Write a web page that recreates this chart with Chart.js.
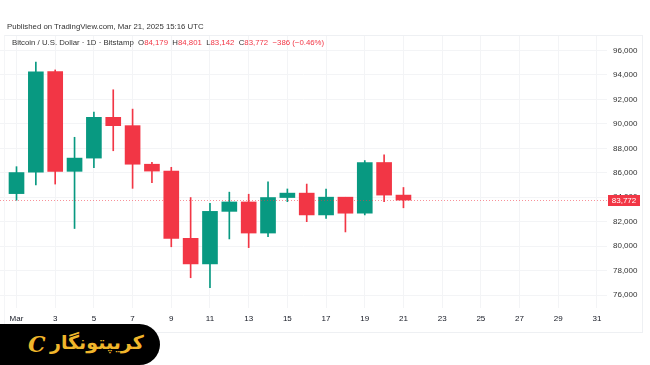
<!DOCTYPE html>
<html>
<head>
<meta charset="utf-8">
<script src="https://cdn.jsdelivr.net/npm/chart.js@4.4.1/dist/chart.umd.min.js"></script>
<style>
  body { margin: 0; background: #fff; }
  #wrap { position: relative; width: 650px; height: 365px; overflow: hidden; font-family: 'Liberation Sans', Arial, sans-serif; }
  #chart { position: absolute; left: 0; top: 0; }
  #frame { position: absolute; left: 4px; top: 35px; width: 639px; height: 298px; border: 1px solid #eef0f3; border-left-color: #f4f5f7; box-sizing: border-box; pointer-events: none; }
  #pub { position: absolute; left: 7px; top: 22px; font-size: 7.8px; color: #333; }
  #info { position: absolute; left: 12px; top: 38px; font-size: 7.8px; color: #333; }
  #info .r { color: #F23645; }
  #logo { position: absolute; left: 0; top: 324px; width: 160px; height: 41px; background: #000; border-radius: 0 21px 21px 0; }
  #logo .ic { position: absolute; left: 28px; top: 7px; font: italic bold 22px 'DejaVu Serif', serif; color: #F0B62B; }
  #logo .tx { position: absolute; left: 50px; top: 7px; font: bold 19px 'DejaVu Sans', sans-serif; color: #F0B62B; direction: rtl; }
</style>
</head>
<body>
<div id="wrap">
  <canvas id="chart" width="650" height="365"></canvas>
  <div id="frame"></div>
  <div id="pub">Published on TradingView.com, Mar 21, 2025 15:16 UTC</div>
  <div id="info">Bitcoin / U.S. Dollar · 1D · Bitstamp&nbsp; O<span class="r">84,179</span>&nbsp; H<span class="r">84,801</span>&nbsp; L<span class="r">83,142</span>&nbsp; C<span class="r">83,772</span>&nbsp; <span class="r">−386 (−0.46%)</span></div>
  <div id="logo"><span class="ic">C</span><span class="tx">کریپتونگار</span></div>
</div>
<script>
// Datos diarios BTC/USD (marzo 2025)
const days   = [1, 2, 3, 4, 5, 6, 7, 8, 9, 10, 11, 12, 13, 14, 15, 16, 17, 18, 19, 20, 21];
const opens  = [84300, 86050, 94270, 86120, 87200, 90530, 89850, 86700, 86140, 80650, 78560, 82850, 83620, 81080, 83980, 84340, 82560, 84010, 82700, 86840, 84179];
const highs  = [86500, 95050, 94400, 88900, 90950, 92780, 91200, 86850, 86450, 83980, 83500, 84420, 84250, 85260, 84680, 85080, 84680, 84000, 87000, 87470, 84801];
const lows   = [83760, 85000, 85080, 81450, 86420, 87800, 84730, 85190, 79960, 77430, 76620, 80600, 79890, 80790, 83640, 82010, 82280, 81170, 82560, 83640, 83142];
const closes = [86020, 94250, 86120, 87200, 90530, 89850, 86700, 86140, 80650, 78560, 82850, 83620, 81080, 83980, 84340, 82560, 84010, 82700, 86840, 84179, 83772];
const xTicks = [1, 3, 5, 7, 9, 11, 13, 15, 17, 19, 21, 23, 25, 27, 29, 31];
const yTicks = [76000, 78000, 80000, 82000, 84000, 86000, 88000, 90000, 92000, 94000, 96000];
const lastPrice = 83772;

const UP = '#089981';
const DOWN = '#F23645';
const colorOf = i => (closes[i] >= opens[i] ? UP : DOWN);

const bodies = days.map((d, i) => ({ x: d, y: [opens[i], closes[i]] }));
const wicks = days.map((d, i) => ({ x: d, y: [lows[i], highs[i]] }));

// Línea de precio actual y etiqueta roja
const priceLine = {
    id: 'priceLine',
    afterDraw(chart) {
        const { ctx, chartArea, scales } = chart;
        const y = Math.round(scales.y.getPixelForValue(lastPrice)) + 0.5;
        ctx.save();
        ctx.strokeStyle = 'rgba(242,54,69,0.55)';
        ctx.lineWidth = 1;
        ctx.setLineDash([1, 2]);
        ctx.beginPath();
        ctx.moveTo(chartArea.left, y);
        ctx.lineTo(chartArea.right, y);
        ctx.stroke();
        ctx.setLineDash([]);
        ctx.fillStyle = DOWN;
        ctx.fillRect(chartArea.right + 1, y - 5.5, 32, 11);
        ctx.fillStyle = '#fff';
        ctx.font = '8px "Liberation Sans", Arial, sans-serif';
        ctx.textAlign = 'center';
        ctx.textBaseline = 'middle';
        ctx.fillText(lastPrice.toLocaleString('en-US'), chartArea.right + 17, y + 0.5);
        ctx.restore();
    }
};

const ctx = document.getElementById('chart').getContext('2d');
new Chart(ctx, {
    type: 'bar',
    data: {
        datasets: [
            {
                data: wicks,
                backgroundColor: c => colorOf(c.dataIndex),
                barThickness: 1,
                grouped: false,
                order: 2
            },
            {
                data: bodies,
                backgroundColor: c => colorOf(c.dataIndex),
                barThickness: 15,
                grouped: false,
                order: 1
            }
        ]
    },
    options: {
        responsive: false,
        animation: false,
        layout: { padding: { top: 36, bottom: 33, left: 0, right: 0 } },
        plugins: {
            legend: { display: false },
            tooltip: { enabled: false }
        },
        scales: {
            x: {
                type: 'linear',
                offset: false,
                min: 0.147,
                max: 31.52,
                afterBuildTicks: s => { s.ticks = xTicks.map(v => ({ value: v })); },
                afterFit: s => { s.height = 24; },
                grid: { color: '#f3f4f6', drawTicks: false, offset: false },
                border: { display: false },
                ticks: {
                    autoSkip: false,
                    maxRotation: 0,
                    padding: 6,
                    color: '#131722',
                    font: { family: '"Liberation Sans", Arial, sans-serif', size: 8 },
                    callback: v => (v === 1 ? 'Mar' : String(v))
                }
            },
            y: {
                position: 'right',
                min: 74960,
                max: 97170,
                afterBuildTicks: s => { s.ticks = yTicks.map(v => ({ value: v })); },
                afterFit: s => { s.width = 43; },
                grid: { color: '#f3f4f6', drawTicks: false },
                border: { display: false },
                ticks: {
                    padding: 6,
                    color: '#333',
                    font: { family: '"Liberation Sans", Arial, sans-serif', size: 8 },
                    callback: v => v.toLocaleString('en-US')
                }
            }
        }
    },
    plugins: [priceLine]
});
</script>
</body>
</html>
